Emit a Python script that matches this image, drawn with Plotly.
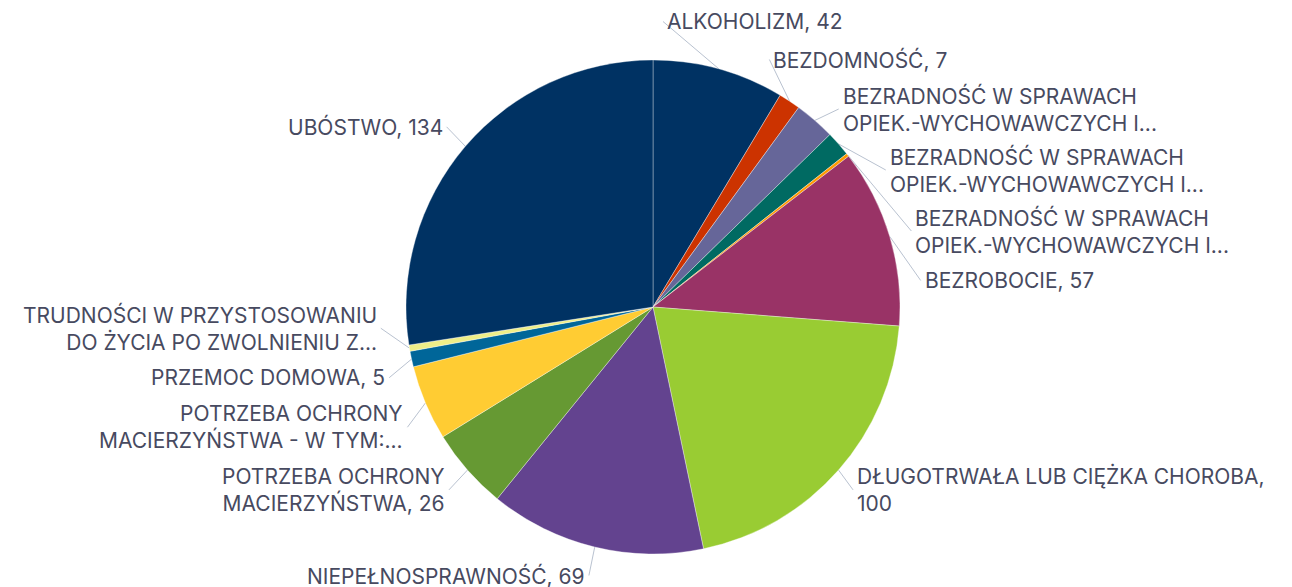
import math
import plotly.graph_objects as go

# ---------------- data ----------------
categories = [
    "ALKOHOLIZM",
    "BEZDOMNOŚĆ",
    "BEZRADNOŚĆ W SPRAWACH OPIEK.-WYCHOWAWCZYCH I... (1)",
    "BEZRADNOŚĆ W SPRAWACH OPIEK.-WYCHOWAWCZYCH I... (2)",
    "BEZRADNOŚĆ W SPRAWACH OPIEK.-WYCHOWAWCZYCH I... (3)",
    "BEZROBOCIE",
    "DŁUGOTRWAŁA LUB CIĘŻKA CHOROBA",
    "NIEPEŁNOSPRAWNOŚĆ",
    "POTRZEBA OCHRONY MACIERZYŃSTWA",
    "POTRZEBA OCHRONY MACIERZYŃSTWA - W TYM:...",
    "PRZEMOC DOMOWA",
    "TRUDNOŚCI W PRZYSTOSOWANIU DO ŻYCIA PO ZWOLNIENIU Z...",
    "UBÓSTWO",
]
values = [42, 7, 13, 8, 1, 57, 100, 69, 26, 24, 5, 2, 134]
label_texts = [
    "ALKOHOLIZM, 42",
    "BEZDOMNOŚĆ, 7",
    "BEZRADNOŚĆ W SPRAWACH<br>OPIEK.-WYCHOWAWCZYCH I...",
    "BEZRADNOŚĆ W SPRAWACH<br>OPIEK.-WYCHOWAWCZYCH I...",
    "BEZRADNOŚĆ W SPRAWACH<br>OPIEK.-WYCHOWAWCZYCH I...",
    "BEZROBOCIE, 57",
    "DŁUGOTRWAŁA LUB CIĘŻKA CHOROBA,<br>100",
    "NIEPEŁNOSPRAWNOŚĆ, 69",
    "POTRZEBA OCHRONY<br>MACIERZYŃSTWA, 26",
    "POTRZEBA OCHRONY<br>MACIERZYŃSTWA - W TYM:...",
    "PRZEMOC DOMOWA, 5",
    "TRUDNOŚCI W PRZYSTOSOWANIU<br>DO ŻYCIA PO ZWOLNIENIU Z...",
    "UBÓSTWO, 134",
]
colors = [
    "#003263", "#cc3300", "#666699", "#006a62", "#ff9900", "#993366",
    "#99cc33", "#63438f", "#669933", "#ffcc33", "#006699", "#eeee88", "#003263",
]

# ---------------- layout geometry ----------------
W, H = 1292, 587
SHIFT = 8                      # page body margin
CX, CY, RAD = 653 - SHIFT, 307 - SHIFT, 247
DIST = 30
LABEL_R = RAD + DIST
LINE_H = 23
PAD = 15
OFF_RIGHT, OFF_LEFT = -8, 4
FONT = dict(family="Inter", size=21, color="#474a60")

total = sum(values)
mids = []
acc = 0
for v in values:
    mids.append((acc + v / 2) / total * 2 * math.pi)
    acc += v

items = []
for i, (t, th) in enumerate(zip(label_texts, mids)):
    n = len(t.split("<br>"))
    items.append(dict(i=i, th=th, h=n * LINE_H, target=CY - LABEL_R * math.cos(th),
                      right=th < math.pi))


def distribute(its, top, bottom):
    its = sorted(its, key=lambda d: d["target"])
    clusters = []

    def place(cl):
        offs = [0.0]
        for a, b in zip(cl[:-1], cl[1:]):
            offs.append(offs[-1] + a["h"] / 2 + b["h"] / 2 + PAD)
        start = sum(it["target"] - o for it, o in zip(cl, offs)) / len(cl)
        start = max(start, top + cl[0]["h"] / 2)
        start = min(start, bottom - cl[-1]["h"] / 2 - offs[-1])
        for it, o in zip(cl, offs):
            it["y"] = start + o

    for it in its:
        clusters.append([it])
        place(clusters[-1])
        while len(clusters) > 1:
            a, b = clusters[-2], clusters[-1]
            if a[-1]["y"] + a[-1]["h"] / 2 + PAD > b[0]["y"] - b[0]["h"] / 2:
                merged = a + b
                clusters = clusters[:-2] + [merged]
                place(merged)
            else:
                break


TOP = 10 - SHIFT
BOTTOM = H - SHIFT
distribute([d for d in items if d["right"]], TOP, BOTTOM)
distribute([d for d in items if not d["right"]], TOP, BOTTOM)

fig = go.Figure()

annotations = []
for d in items:
    dy = d["y"] - CY
    dx = max(math.sqrt(max(LABEL_R ** 2 - dy ** 2, 0)), 18)
    xa = CX + dx + OFF_RIGHT if d["right"] else CX - dx + OFF_LEFT
    ex = CX + RAD * math.sin(d["th"])
    ey = CY - RAD * math.cos(d["th"])
    fig.add_trace(go.Scatter(x=[ex, xa], y=[ey, d["y"]], mode="lines",
                             line=dict(color="#b9c2d0", width=1),
                             hoverinfo="skip", showlegend=False))
    annotations.append(dict(
        x=xa + 2 if d["right"] else xa - 2, y=d["y"], xref="x", yref="y",
        text=label_texts[d["i"]], showarrow=False,
        xanchor="left" if d["right"] else "right", yanchor="middle",
        align="left" if d["right"] else "right",
        font=FONT,
    ))

fig.add_trace(go.Pie(
    labels=categories, values=values, sort=False, direction="clockwise",
    rotation=0, textinfo="none", hoverinfo="label+value",
    marker=dict(colors=colors, line=dict(color="rgba(255,255,255,0.35)", width=1)),
    domain=dict(x=[(CX - RAD) / W, (CX + RAD) / W],
                y=[1 - (CY + RAD) / H, 1 - (CY - RAD) / H]),
    showlegend=False,
))

fig.update_layout(
    width=W, height=H,
    margin=dict(l=0, r=0, t=0, b=0),
    paper_bgcolor="white", plot_bgcolor="white",
    xaxis=dict(range=[0, W], visible=False, fixedrange=True),
    yaxis=dict(range=[H, 0], visible=False, fixedrange=True),
    annotations=annotations,
    showlegend=False,
)

fig.write_html("out.html")
